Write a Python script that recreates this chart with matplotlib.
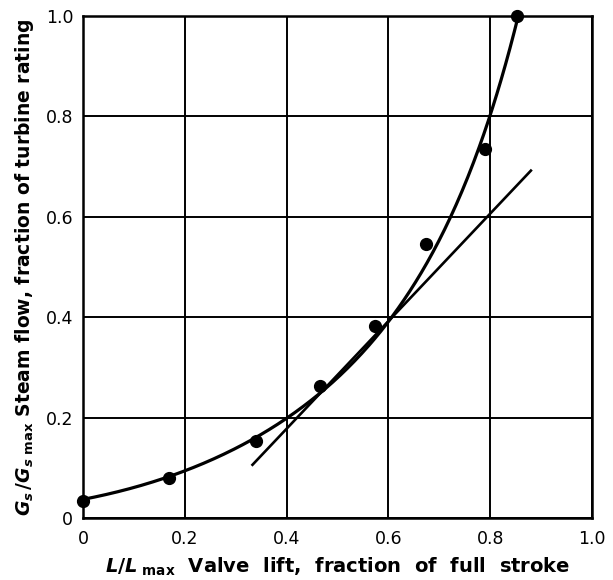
import numpy as np
import matplotlib
matplotlib.use("Agg")
import matplotlib.pyplot as plt

lift = [0.0, 0.169, 0.340, 0.466, 0.574, 0.674, 0.789, 0.853]
flow = [0.034, 0.079, 0.153, 0.262, 0.383, 0.546, 0.735, 1.0]
# hand-drawn smooth curve, read at several positions
curve_x = [0.0, 0.084, 0.172, 0.253, 0.327, 0.400, 0.476, 0.557, 0.610, 0.675, 0.721, 0.761, 0.800, 0.830, 0.853]
curve_y = [0.037, 0.057, 0.082, 0.117, 0.155, 0.199, 0.254, 0.334, 0.410, 0.514, 0.600, 0.683, 0.797, 0.900, 1.0]
# tangent line end points
tangent_x = [0.333, 0.880]
tangent_y = [0.106, 0.692]
ticks = [0.0, 0.2, 0.4, 0.6, 0.8, 1.0]
tick_labels = ["0", "0.2", "0.4", "0.6", "0.8", "1.0"]

plt.rcParams['font.family'] = ['DejaVu Sans']
plt.rcParams['mathtext.fontset'] = 'dejavusans'

fig = plt.figure(figsize=(6.13, 5.80), dpi=100)
ax = fig.add_axes([0.1354, 0.1069, 0.8303, 0.8655])

# smooth path through the read curve positions (fit in log space)
coef = np.polyfit(curve_x, np.log(curve_y), 4)
xs = np.linspace(curve_x[0], curve_x[-1], 300)
ax.plot(xs, np.exp(np.polyval(coef, xs)), color='black', lw=2.3, zorder=3,
        solid_capstyle='round')
ax.plot(tangent_x, tangent_y, color='black', lw=1.9, zorder=3)
ax.plot(lift, flow, 'o', color='black', ms=8.5, zorder=4, clip_on=False)

ax.set_xlim(0, 1.0)
ax.set_ylim(0, 1.0)
ax.set_xticks(ticks)
ax.set_yticks(ticks)
ax.set_xticklabels(tick_labels)
ax.set_yticklabels(tick_labels)
ax.tick_params(axis='both', length=0, labelsize=12.5)
ax.tick_params(axis='x', pad=9)
ax.tick_params(axis='y', pad=7)
ax.grid(True, color='black', lw=1.4)
for s in ax.spines.values():
    s.set_linewidth(1.8)

ax.set_xlabel(r"$\mathbfit{L}\mathbf{/}\mathbfit{L}_{\ \mathbf{max}}$  Valve  lift,  fraction  of  full  stroke",
              fontsize=14, fontweight='bold', labelpad=5)
ax.set_ylabel(r"$\mathbfit{G}_\mathbfit{s}\,\mathbf{/}\mathbfit{G}_{\mathbfit{s}\ \mathbf{max}}$ Steam flow, fraction of turbine rating",
              fontsize=13.5, fontweight='bold', labelpad=7)

fig.savefig("out.png", dpi=100)
